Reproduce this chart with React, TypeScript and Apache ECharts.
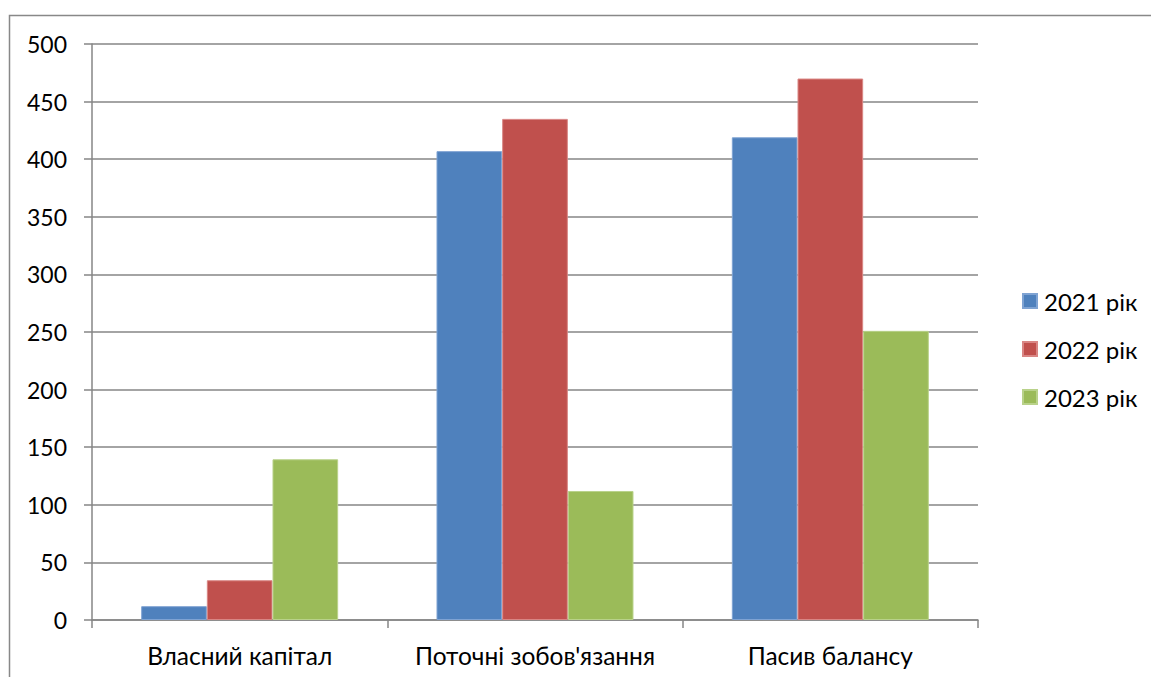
import React, { useEffect, useRef } from "react";
import * as echarts from "echarts";

const categories = ["Власний капітал", "Поточні зобов'язання", "Пасив балансу"];
const seriesNames = ["2021 рік", "2022 рік", "2023 рік"];
const values2021 = [12, 407, 419];
const values2022 = [34.5, 435, 470];
const values2023 = [139.5, 112, 251];
const colors = ["#4F81BD", "#C0504D", "#9BBB59"];
const borderColors = ["#7FA3D3", "#D98684", "#B9D28A"];

export default function App() {
  const ref = useRef<HTMLDivElement>(null);
  useEffect(() => {
    if (!ref.current) return;
    const chart = echarts.init(ref.current, null, { renderer: "svg" });
    const font = "Lato, sans-serif";
    const data = [values2021, values2022, values2023];
    chart.setOption({
      animation: false,
      backgroundColor: "#ffffff",
      graphic: [
        {
          type: "rect",
          shape: { x: 9.5, y: 15.5, width: 1200, height: 700 },
          style: { fill: "none", stroke: "#888888", lineWidth: 1.5 },
          silent: true,
        },
      ],
      grid: { left: 92, right: 173, top: 44, bottom: 57 },
      legend: {
        orient: "vertical",
        left: 1017,
        top: 284,
        itemWidth: 14,
        itemHeight: 14,
        itemGap: 24,
        icon: "rect",
        textStyle: { fontSize: 24, fontFamily: font, color: "#000", padding: [0, 0, 0, 2] },
        data: seriesNames,
      },
      xAxis: {
        type: "category",
        data: categories,
        axisLine: { lineStyle: { color: "#868686", width: 1.5 } },
        axisTick: { show: true, interval: 0, length: 8, lineStyle: { color: "#868686", width: 1.5 } },
        axisLabel: { interval: 0, hideOverlap: false, fontSize: 24.5, fontFamily: font, color: "#000", margin: 23 },
      },
      yAxis: {
        type: "value",
        min: 0,
        max: 500,
        interval: 50,
        axisLine: { show: true, lineStyle: { color: "#868686", width: 1.5 } },
        axisTick: { show: true, length: 8, lineStyle: { color: "#868686", width: 1.5 } },
        splitLine: { lineStyle: { color: "#868686", width: 1.5 } },
        axisLabel: { fontSize: 23, fontFamily: font, color: "#000", margin: 25 },
      },
      series: seriesNames.map((name, i) => ({
        name,
        type: "bar",
        data: data[i],
        barGap: "0%",
        barCategoryGap: "33.3%",
        itemStyle: { color: colors[i], borderColor: borderColors[i], borderWidth: 1 },
      })),
    });
    return () => chart.dispose();
  }, []);
  return (
    <div
      ref={ref}
      style={{ position: "absolute", left: 0, top: 0, width: 1151, height: 677 }}
    />
  );
}
